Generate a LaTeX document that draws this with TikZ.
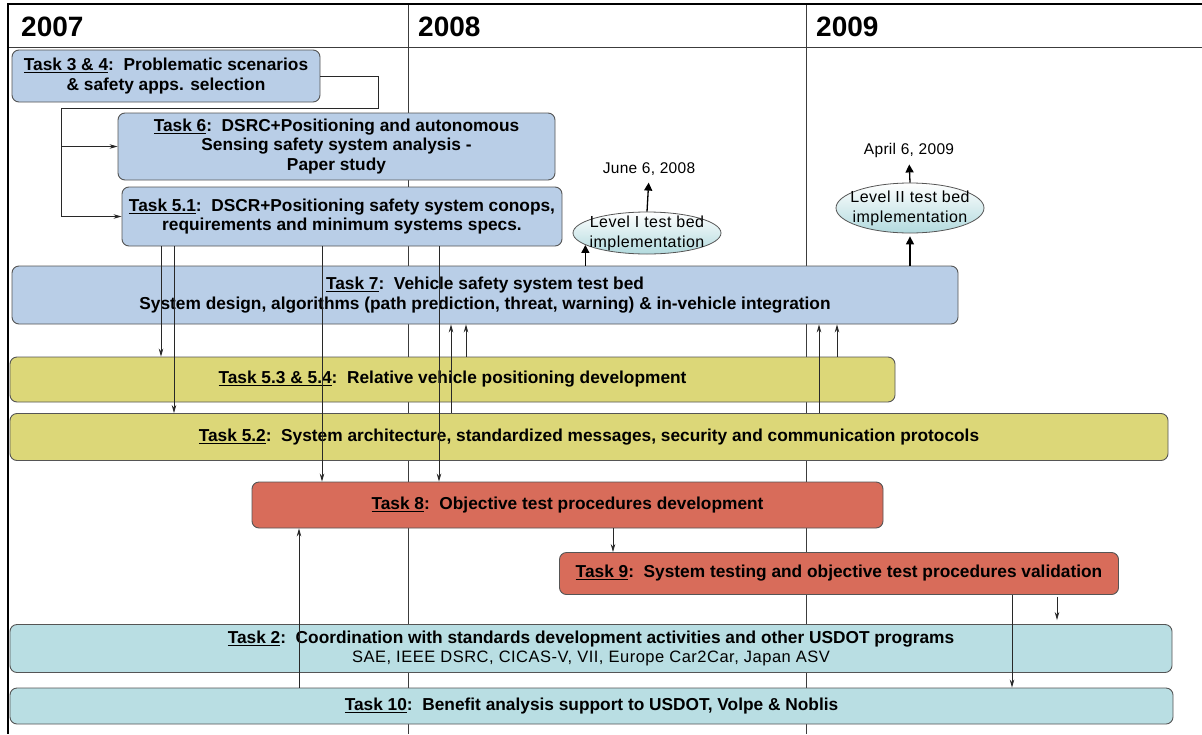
\documentclass[tikz,border=0pt]{standalone}
\usepackage{fontspec}
\setmainfont{Liberation Sans}
\usetikzlibrary{arrows.meta,shapes.geometric,calc}

\definecolor{taskblue}{RGB}{185,206,231}
\definecolor{taskyellow}{RGB}{220,215,120}
\definecolor{taskred}{RGB}{216,108,90}
\definecolor{taskcyan}{RGB}{185,222,227}
\definecolor{ellteal}{RGB}{178,218,222}
\definecolor{boxline}{RGB}{85,85,85}
\definecolor{gridgray}{RGB}{60,60,60}
\definecolor{linegray}{RGB}{40,40,40}

\begin{document}
\begin{tikzpicture}[x=1pt,y=-1pt,
  task/.style={draw=boxline, line width=0.9pt, rounded corners=7pt, align=center,
    inner sep=0pt, font=\bfseries\fontsize{17.3}{19.5}\selectfont},
  bluetask/.style={task, fill=taskblue},
  yellowtask/.style={task, fill=taskyellow},
  redtask/.style={task, fill=taskred},
  cyantask/.style={task, fill=taskcyan},
  boxsize/.style 2 args={minimum width=#1pt, minimum height=#2pt},
  link/.style={draw=linegray, line width=0.8pt, -{Stealth[length=8pt,width=4.5pt]}},
  mile/.style={line width=1.3pt, -{Triangle[length=8pt,width=8pt]}},
  year/.style={font=\bfseries\fontsize{28}{30}\selectfont, anchor=west, inner sep=0pt},
  ell/.style={ellipse, draw=boxline, line width=0.8pt, top color=white, bottom color=ellteal, inner sep=0pt},
  elltext/.style={align=center, inner sep=0pt, font=\fontsize{16}{20}\selectfont\addfontfeature{LetterSpace=3}},
  date/.style={inner sep=1pt, font=\fontsize{15.5}{17}\selectfont\addfontfeature{LetterSpace=2}}
]
\useasboundingbox (0,0) rectangle (1202,734);
\fill[white] (0,0) rectangle (1202,734);

% Time frame and year columns
\draw[gridgray, line width=1pt] (408,4) -- (408,734);
\draw[gridgray, line width=1pt] (806,4) -- (806,734);
\draw[gridgray, line width=1pt] (8,47) -- (1202,47);
\draw[line width=1.5pt] (8,4) -- (1202,4);
\draw[line width=2.5pt] (8,3) -- (8,734);
\node[year] (y07) at (21,27) {2007};
\node[year] (y08) at (418,27) {2008};
\node[year] (y09) at (816,27) {2009};

% Tasks (2007 start)
\node[bluetask, boxsize={308}{52}] (t34) at (166,76) {\underline{Task 3 \& 4}:\ \ Problematic scenarios\\\& safety apps. selection};
\node[bluetask, boxsize={437}{67}] (t6) at (336.5,146.5) {\underline{Task 6}:\ \ DSRC+Positioning and autonomous\\Sensing safety system analysis -\\Paper study};
\node[bluetask, boxsize={440}{59}] (t51) at (342,216.5) {\underline{Task 5.1}:\ \ DSCR+Positioning safety system conops,\\requirements and minimum systems specs.};
\node[bluetask, boxsize={946}{58}] (t7) at (485,295) {\underline{Task 7}:\ \ Vehicle safety system test bed\\System design, algorithms (path prediction, threat, warning) \& in-vehicle integration};
\node[yellowtask, boxsize={885}{45}] (t534) at (452.5,379.5) {\underline{Task 5.3 \& 5.4}:\ \ Relative vehicle positioning development};
\node[yellowtask, boxsize={1158}{47}] (t52) at (589,437) {\underline{Task 5.2}:\ \ System architecture, standardized messages, security and communication protocols};
\node[redtask, boxsize={631}{46}] (t8) at (567.5,505) {\underline{Task 8}:\ \ Objective test procedures development};
\node[redtask, boxsize={559}{42}] (t9) at (839,573.5) {\underline{Task 9}:\ \ System testing and objective test procedures validation};
\node[cyantask, boxsize={1162}{48}] (t2) at (591,648.5) {\underline{Task 2}:\ \ Coordination with standards development activities and other USDOT programs\\[-1pt]{\mdseries\fontsize{16.5}{17}\selectfont\addfontfeature{LetterSpace=3}SAE, IEEE DSRC, CICAS-V, VII, Europe Car2Car, Japan ASV}};
\node[cyantask, boxsize={1163}{36}] (t10) at (591.5,706) {\underline{Task 10}:\ \ Benefit analysis support to USDOT, Volpe \& Noblis};

% Milestones
\node[ell, boxsize={148}{42}] (e1) at (647,233) {};
\node[elltext] (e1t) at (e1) {Level I test bed\\implementation};
\node[ell, boxsize={148}{50}] (e2) at (910,208) {};
\node[elltext] (e2t) at (e2) {Level II test bed\\implementation};
\node[date] (d1) at (649,169) {June 6, 2008};
\node[date] (d2) at (909,150) {April 6, 2009};
\draw[mile, shorten >=6pt] (e1.north) -- (d1.south);
\draw[mile, shorten >=6pt] (e2.north) -- (d2.south);
\draw[mile] (t7.north -| e1.191) -- (e1.191);
\draw[mile, shorten >=3pt] (t7.north -| e2.south) -- (e2.south);

% Task 3&4 feeds Task 6 and Task 5.1
\coordinate (bend) at (378,108);
\coordinate (split) at (61,108);
\draw[link] (t34.east) -| (bend) -- (split) |- (t51.west);
\draw[link] (split |- t6.west) -- (t6.west);

% Task 5.1 outputs
\draw[link] (t51.south -| 161,0) -- (t534.north -| 161,0);
\draw[link] (t51.south -| 174,0) -- (t52.north -| 174,0);
\draw[link] (t51.south -| 322,0) -- (t8.north -| 322,0);
\draw[link] (t51.south -| 439,0) -- (t8.north -| 439,0);

% Inputs to Task 7
\draw[link] (t52.north -| 451,0) -- (t7.south -| 451,0);
\draw[link] (t534.north -| 466,0) -- (t7.south -| 466,0);
\draw[link] (t52.north -| 819,0) -- (t7.south -| 819,0);
\draw[link] (t534.north -| 837,0) -- (t7.south -| 837,0);

% Test procedures and support
\draw[link] (t8.south -| 613,0) -- (t9.north -| 613,0);
\draw[link] (t10.north -| 299,0) -- (t8.south -| 299,0);
\draw[link] (t9.south -| 1012,0) -- (t10.north -| 1012,0);
\draw[link, shorten <=2pt, shorten >=4pt] (t9.south -| 1057,0) -- (t2.north -| 1057,0);

\end{tikzpicture}
\end{document}
